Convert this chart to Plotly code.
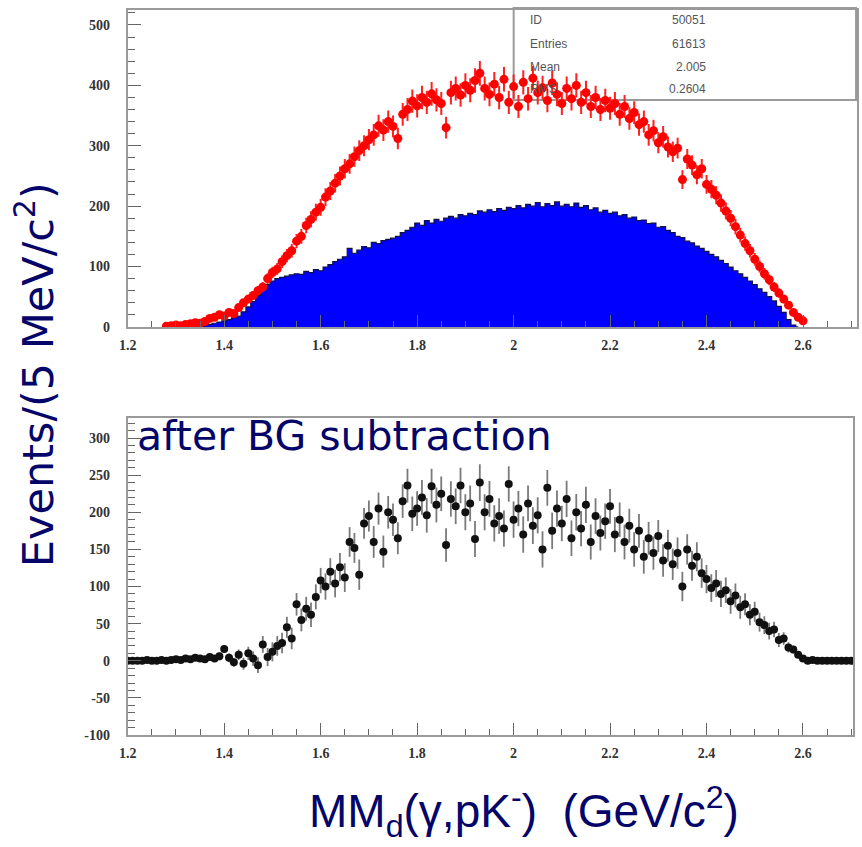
import numpy as np
import plotly.graph_objects as go

# ---------------- data ----------------
BIN = 0.01

# red points: all candidates (top panel), bins start at 1.28
red_start = 1.28
red_counts = [
    1, 2,
    3, 2, 4, 5, 7, 6, 9, 14, 16, 20,
    18, 24, 22, 32, 40, 46, 52, 60, 66, 80,
    90, 96, 108, 118, 126, 142, 150, 168, 178, 190,
    198, 215, 225, 238, 250, 262, 270, 282, 292, 300,
    310, 318, 333, 326, 340, 332, 312, 352, 360, 374,
    366, 380, 372, 386, 376, 370, 330, 388, 395, 384,
    400, 392, 408, 420, 395, 385, 402, 380, 410, 372,
    398, 365, 405, 378, 412, 388, 396, 375, 404, 385,
    370, 395, 378, 400, 372, 388, 365, 380, 360, 375,
    362, 370, 352, 365, 345, 355, 335, 340, 318, 325,
    305, 315, 298, 290, 296, 244, 278, 268, 252, 262,
    236, 228, 218, 205, 192, 180, 166, 152, 138, 126,
    112, 100, 88, 78, 66, 56, 46, 36, 24, 16,
    10,
]

# blue histogram: background estimate (top panel), bins start at 1.35
blue_start = 1.35
blue_counts = [
    0, 2, 4, 6, 8,
    10, 12, 15, 18, 25, 33, 42, 52, 62, 70,
    76, 80, 82, 84, 86, 88, 87, 92, 90, 95,
    93, 99, 103, 108, 112, 116, 130, 122, 127, 133,
    131, 140, 138, 143, 145, 147, 150, 156, 160, 165,
    172, 168, 176, 172, 178, 175, 180, 183, 180, 186,
    184, 188, 186, 192, 190, 194, 191, 196, 193, 198,
    196, 201, 197, 203, 200, 206, 199, 204, 201, 207,
    200, 203, 199, 205, 198, 201, 194, 197, 190, 193,
    188, 190, 184, 186, 180, 182, 176, 177, 171, 172,
    165, 166, 160, 156, 150, 148, 142, 139, 134, 130,
    125, 120, 116, 110, 105, 99, 93, 88, 82, 76,
    70, 63, 57, 50, 43, 34, 24, 12, 3, 0,
]

# black points: after BG subtraction (bottom panel), bins start at 1.20
sub_start = 1.20
sub_counts = [
    0, 0, 0, 0, 1, 0, 0, 1, 0, 1,
    2, 1, 3, 2, 4, 3, 2, 5, 3, 6,
    16, 4, -2, 8, -4, 10, 3, -6, 22, 5,
    12, 20, 24, 45, 30, 76, 55, 70, 62, 86,
    108, 100, 120, 104, 126, 112, 160, 152, 116, 185,
    195, 160, 205, 147, 200, 190, 165, 215, 236, 198,
    205, 220, 196, 235, 210, 225, 156, 218, 208, 236,
    200, 212, 164, 240, 200, 218, 185, 195, 178, 238,
    190, 205, 170, 212, 182, 196, 150, 233, 175, 205,
    185, 218, 165, 200, 178, 210, 160, 195, 172, 188,
    208, 170, 190, 160, 182, 150, 175, 140, 165, 145,
    168, 135, 155, 130, 145, 100, 150, 128, 140, 118,
    110, 98, 104, 90, 95, 80, 88, 72, 76, 62,
    66, 52, 48, 40, 42, 28, 30, 18, 15, 8,
    3, 0, 1, 0, 0, 0, 0, 0, 0, 0, 0,
]

stats_labels = ["ID", "Entries", "Mean", "RMS"]
stats_values = ["50051", "61613", "2.005", "0.2604"]

top_y_ticks = [0, 100, 200, 300, 400, 500]
bot_y_ticks = [-100, -50, 0, 50, 100, 150, 200, 250, 300]
bot_y_text = ["-100", "-50", "0", "50", "100", "150", "200", "250", "300"]
x_ticks = [1.2, 1.4, 1.6, 1.8, 2.0, 2.2, 2.4, 2.6]
x_text = ["1.2", "1.4", "1.6", "1.8", "2", "2.2", "2.4", "2.6"]

# ---------------- derived ----------------
red_x = np.round(red_start + BIN * np.arange(len(red_counts)), 2)
blue_x = np.round(blue_start + BIN * np.arange(len(blue_counts)), 2)
sub_x = np.round(sub_start + BIN * np.arange(len(sub_counts)), 2)
red_y = np.array(red_counts, float)
blue_y = np.array(blue_counts, float)
sub_y = np.array(sub_counts, float)

red_err = np.sqrt(red_y)
red_map = dict(zip(red_x, red_y))
blue_map = dict(zip(blue_x, blue_y))
sub_err = np.array([max(1.5, np.sqrt(red_map.get(x, 0) + blue_map.get(x, 0))) for x in sub_x])

W, H = 862, 847
def px(v): return v / W
def py(v): return 1 - v / H

fig = go.Figure()

fig.add_trace(go.Scatter(
    x=blue_x, y=blue_y, mode="lines", line_shape="hvh",
    line=dict(color="#10104a", width=1.2), fill="tozeroy", fillcolor="#0000ff",
    xaxis="x", yaxis="y", showlegend=False, hoverinfo="skip"))

fig.add_trace(go.Scatter(
    x=red_x, y=red_y, mode="markers",
    marker=dict(color="#ff0000", size=9, line=dict(width=0)),
    error_y=dict(type="data", array=red_err, color="#ff2020", thickness=2, width=0),
    error_x=dict(type="constant", value=0.007, color="#ff2020", thickness=2, width=0),
    xaxis="x", yaxis="y", showlegend=False))

fig.add_trace(go.Scatter(
    x=sub_x, y=sub_y, mode="markers",
    marker=dict(color="#111111", size=8, line=dict(width=0)),
    error_y=dict(type="data", array=sub_err, color="#7a7a7a", thickness=1.8, width=0),
    xaxis="x2", yaxis="y2", showlegend=False))

tickfont = dict(family="Liberation Serif", size=14, color="#333333", weight="bold")
frame = dict(showline=True, linecolor="#9a9a9a", linewidth=2, mirror=True,
             showgrid=False, zeroline=False, tickcolor="#666666", tickfont=tickfont)

fig.update_layout(
    width=W, height=H, margin=dict(l=0, r=0, t=0, b=0),
    paper_bgcolor="white", plot_bgcolor="white",
    xaxis=dict(domain=[px(120), px(857)], range=[1.2, 2.712], anchor="y",
               tickvals=x_ticks, ticktext=x_text, ticks="inside", ticklen=12,
               minor=dict(ticks="inside", dtick=0.05, tick0=1.2, ticklen=6, tickcolor="#666666"),
               ticklabelstandoff=4, **frame),
    yaxis=dict(domain=[py(330), py(10)], range=[0, 525], anchor="x",
               tickvals=top_y_ticks, ticks="inside", ticklen=13,
               minor=dict(ticks="inside", dtick=20, tick0=0, ticklen=7, tickcolor="#666666"),
               ticklabelstandoff=13, **frame),
    xaxis2=dict(domain=[px(120), px(853)], range=[1.2, 2.704], anchor="y2",
                tickvals=x_ticks, ticktext=x_text, ticks="inside", ticklen=12,
                minor=dict(ticks="inside", dtick=0.05, tick0=1.2, ticklen=6, tickcolor="#666666"),
                ticklabelstandoff=4, **frame),
    yaxis2=dict(domain=[py(742), py(422)], range=[-100, 327], anchor="x2",
                tickvals=bot_y_ticks, ticktext=bot_y_text, ticks="inside", ticklen=13,
                minor=dict(ticks="inside", dtick=10, tick0=0, ticklen=7, tickcolor="#666666"),
                ticklabelstandoff=13, **frame),
)

# stats box
fig.add_shape(type="rect", xref="paper", yref="paper",
              x0=px(510), x1=px(856), y0=py(101), y1=py(8),
              line=dict(color="#9a9a9a", width=2), fillcolor="rgba(0,0,0,0)", layer="below")
stat_rows = [20, 44, 68, 90]
for lab, val, yy in zip(stats_labels, stats_values, stat_rows):
    fig.add_annotation(xref="paper", yref="paper", x=px(524), y=py(yy), text=lab,
                       showarrow=False, xanchor="left", yanchor="middle",
                       font=dict(family="Liberation Sans", size=12, color="#555555"))
    fig.add_annotation(xref="paper", yref="paper", x=px(706), y=py(yy), text=val,
                       showarrow=False, xanchor="right", yanchor="middle",
                       font=dict(family="Liberation Sans", size=12, color="#555555"))

navy = "#050569"
fig.add_annotation(xref="paper", yref="paper", x=px(27), y=py(378),
                   text="Events/(5 MeV/c<sup>2</sup>)", textangle=-90, showarrow=False,
                   xanchor="center", yanchor="middle",
                   font=dict(family="DejaVu Sans", size=43, color=navy))
fig.add_annotation(xref="paper", yref="paper", x=px(127), y=py(440),
                   text="after BG subtraction", showarrow=False,
                   xanchor="left", yanchor="middle",
                   font=dict(family="DejaVu Sans", size=41, color=navy))
fig.add_annotation(xref="paper", yref="paper", x=px(520), y=py(819),
                   text="MM<sub>d</sub>(γ,pK<sup>-</sup>)  (GeV/c<sup>2</sup>)", showarrow=False,
                   xanchor="center", yanchor="middle",
                   font=dict(family="Liberation Sans", size=46, color=navy))

fig.write_html("out.html")
